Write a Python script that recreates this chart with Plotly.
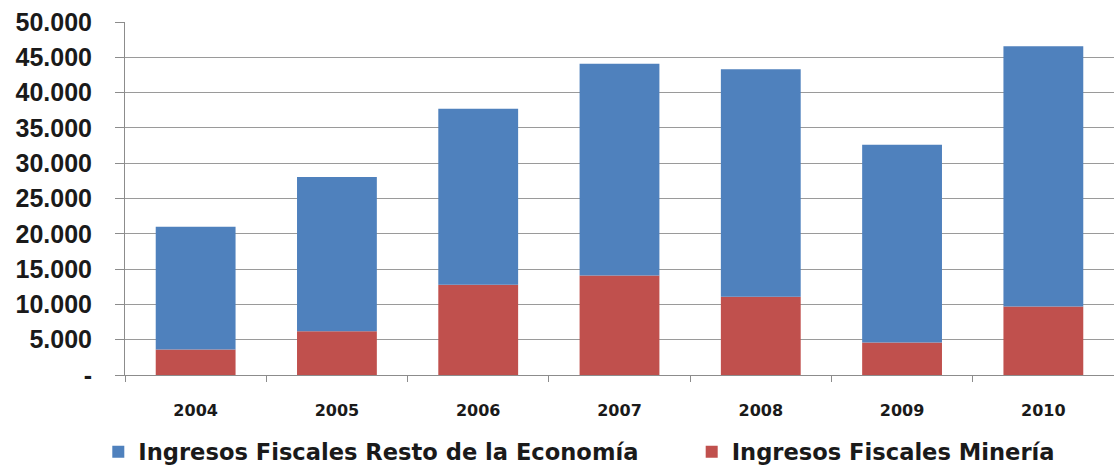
import plotly.graph_objects as go

# Fiscal revenue by year (millions), stacked: mining + rest of the economy
years = ["2004", "2005", "2006", "2007", "2008", "2009", "2010"]
total_revenue = [21000, 28050, 37700, 44100, 43300, 32600, 46550]
mining_revenue = [3600, 6200, 12800, 14100, 11100, 4600, 9700]
rest_revenue = [t - m for t, m in zip(total_revenue, mining_revenue)]

y_tick_values = [0, 5000, 10000, 15000, 20000, 25000, 30000, 35000, 40000, 45000, 50000]
y_tick_text = ["-", "5.000", "10.000", "15.000", "20.000", "25.000",
               "30.000", "35.000", "40.000", "45.000", "50.000"]

BLUE = "#4F81BD"
RED = "#C0504D"

legend_font = dict(family="DejaVu Sans", size=22.6, color="#1a1a1a", weight="bold")

fig = go.Figure()
fig.add_trace(go.Bar(
    x=years, y=mining_revenue, name="Ingresos Fiscales Minería",
    marker=dict(color=RED, line=dict(width=0)),
    legend="legend2",
))
fig.add_trace(go.Bar(
    x=years, y=rest_revenue, base=mining_revenue,
    name="Ingresos Fiscales Resto de la Economía",
    marker=dict(color=BLUE, line=dict(width=0)),
    legend="legend",
))

fig.update_layout(
    width=1114, height=472,
    margin=dict(l=125, r=0, t=22, b=97, autoexpand=False),
    paper_bgcolor="white", plot_bgcolor="white",
    barmode="overlay", bargap=0.435,
    showlegend=True,
    legend=dict(
        orientation="h", x=-0.027, xanchor="left", y=-0.218, yanchor="middle",
        font=legend_font, bgcolor="rgba(0,0,0,0)",
    ),
    legend2=dict(
        orientation="h", x=0.573, xanchor="left", y=-0.218, yanchor="middle",
        font=legend_font, bgcolor="rgba(0,0,0,0)",
    ),
)

fig.update_xaxes(
    type="category",
    showline=True, linecolor="#8c8c8c", linewidth=1,
    ticks="outside", tickson="boundaries", ticklen=6, tickcolor="#8c8c8c",
    ticklabelstandoff=21,
    tickfont=dict(family="DejaVu Sans", size=16, color="#1a1a1a", weight="bold"),
    showgrid=False,
)
fig.update_yaxes(
    range=[0, 50000],
    tickvals=y_tick_values, ticktext=y_tick_text,
    showline=True, linecolor="#8c8c8c", linewidth=1,
    ticks="outside", ticklen=9, tickcolor="#8c8c8c",
    ticklabelstandoff=18,
    tickfont=dict(family="Liberation Sans", size=25, color="#1a1a1a", weight="bold"),
    showgrid=True, gridcolor="#9a9a9a", gridwidth=1,
    zeroline=False,
)

fig.write_html("out.html")
